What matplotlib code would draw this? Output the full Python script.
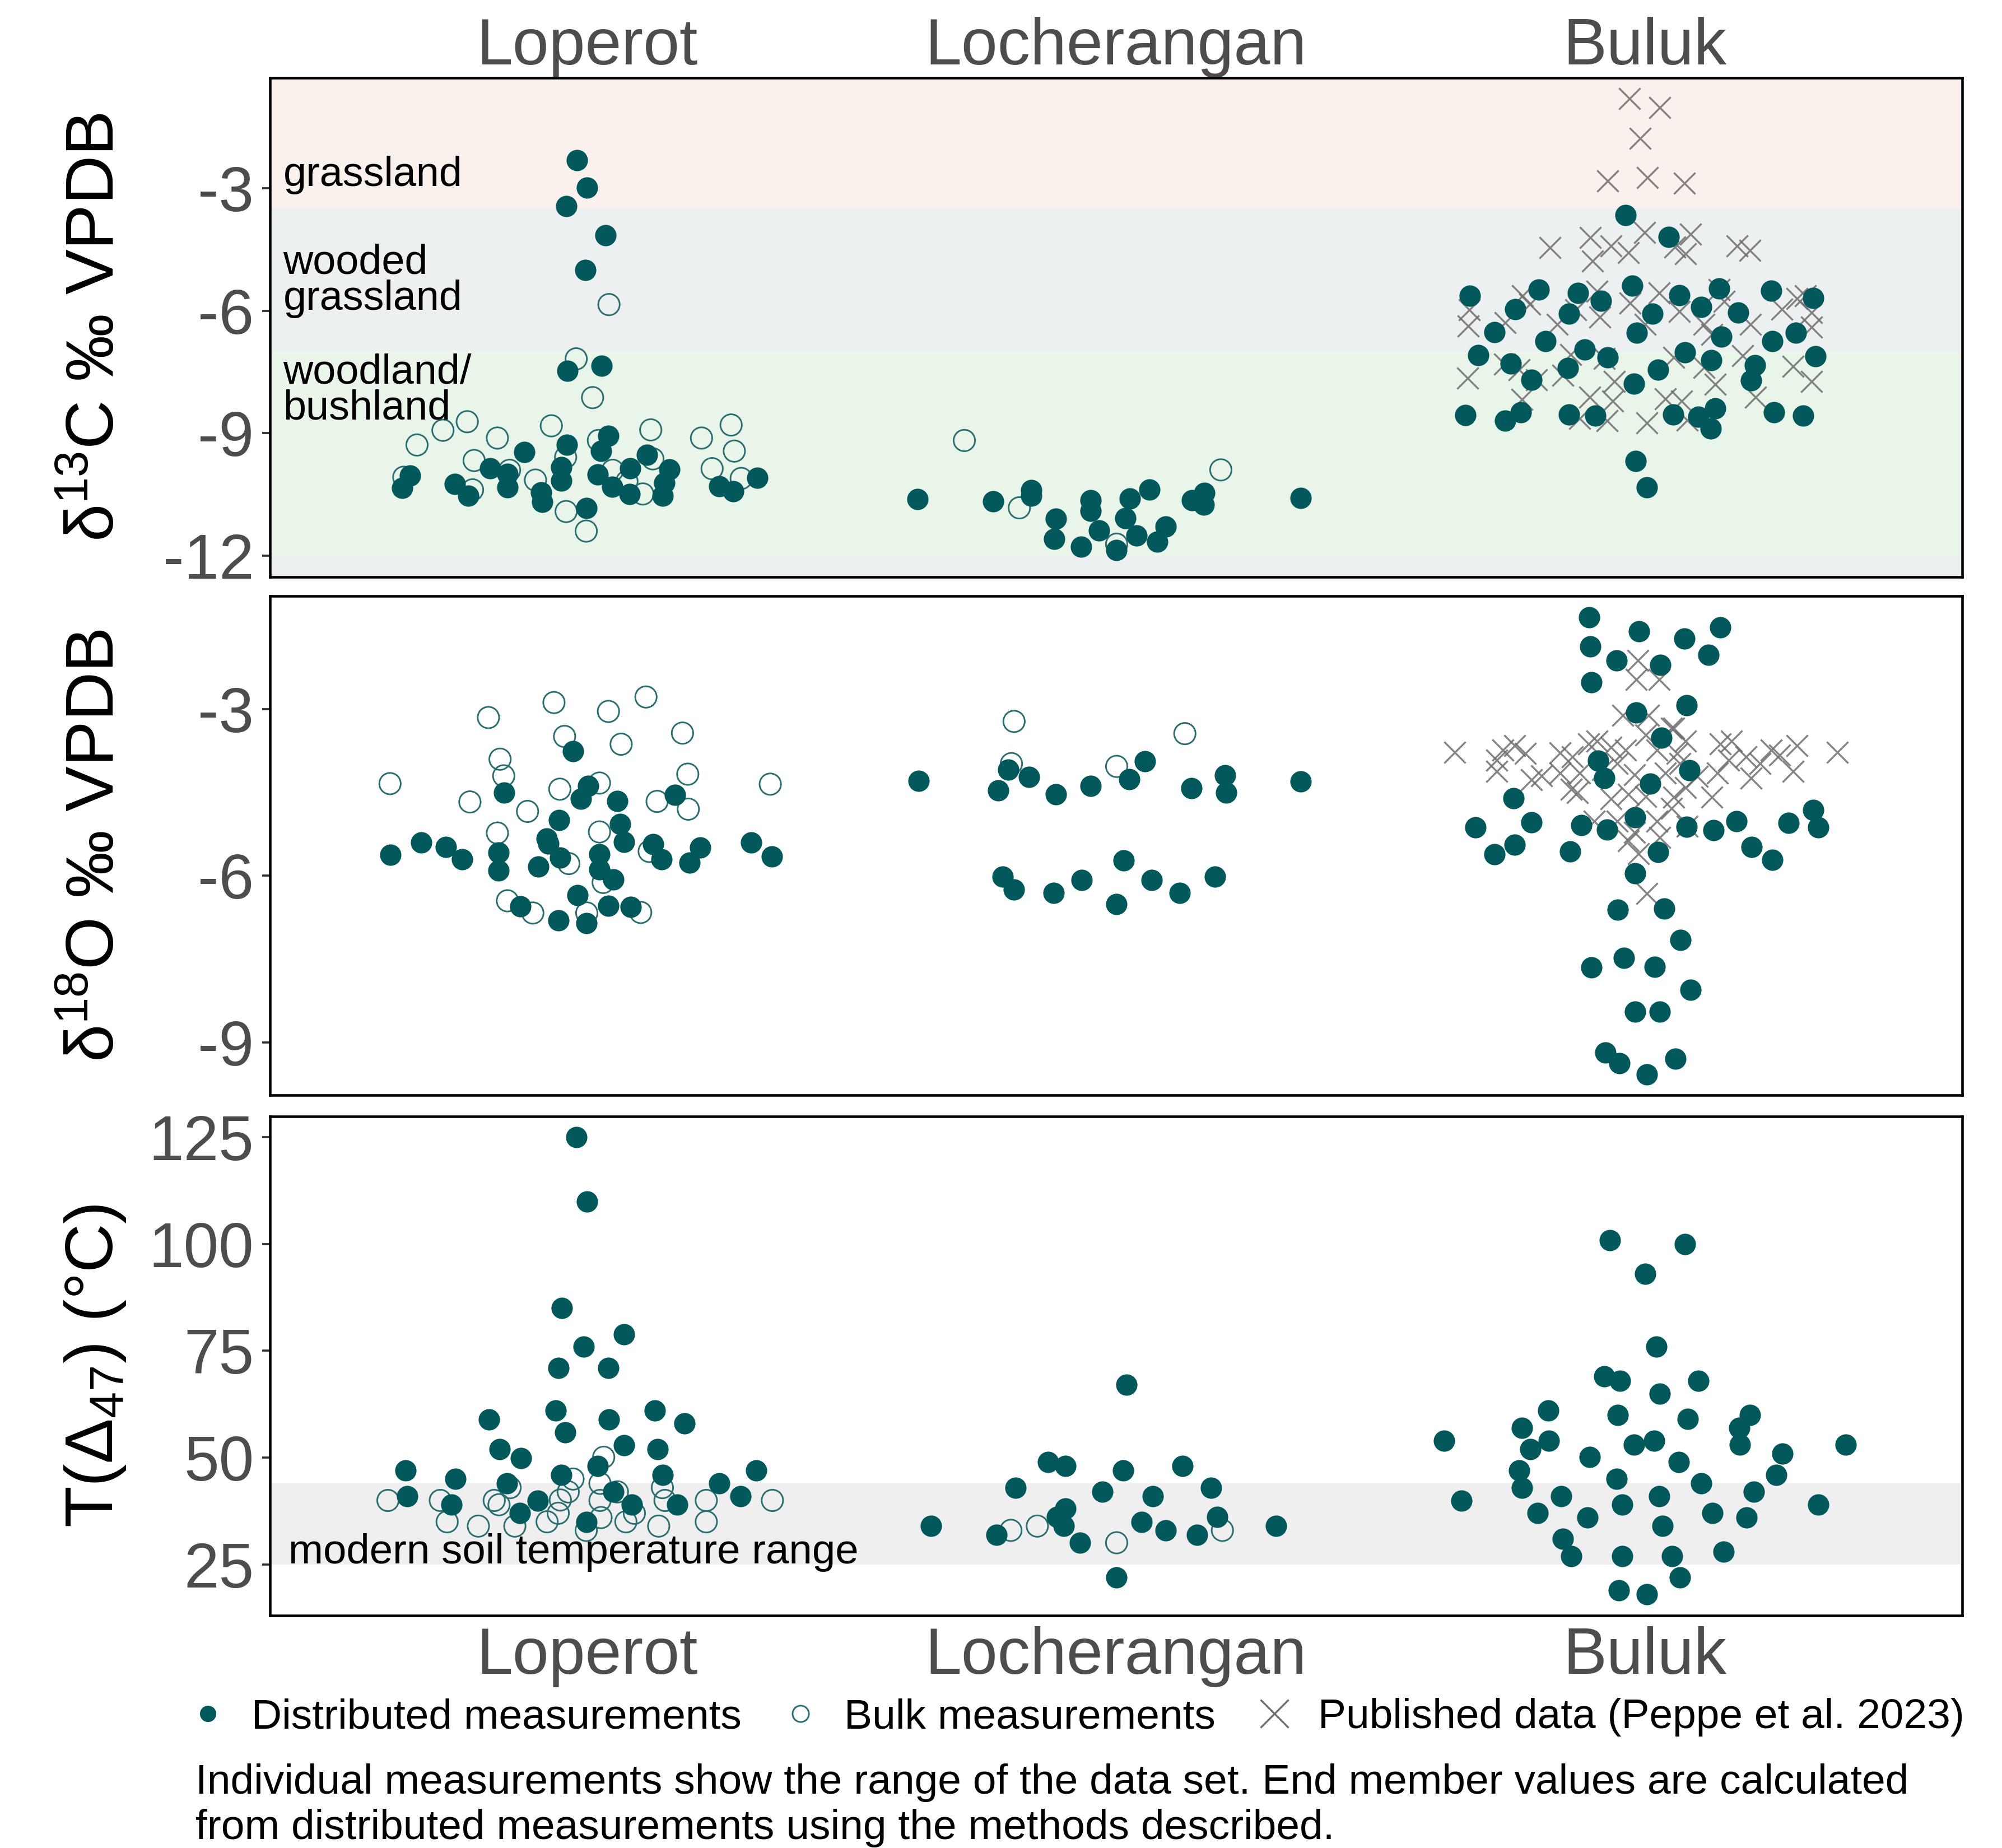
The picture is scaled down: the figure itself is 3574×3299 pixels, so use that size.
import numpy as np
import matplotlib
matplotlib.use("Agg")
import matplotlib.pyplot as plt
from matplotlib.lines import Line2D

plt.rcParams['font.family'] = ['Liberation Sans', 'DejaVu Sans']
plt.rcParams['mathtext.fontset'] = 'custom'
plt.rcParams['mathtext.rm'] = 'Liberation Sans'
plt.rcParams['mathtext.it'] = 'Liberation Sans:italic'
plt.rcParams['mathtext.bf'] = 'Liberation Sans:bold'
plt.rcParams['axes.unicode_minus'] = False

# ---------------- data ----------------
sites = ['Loperot', 'Locherangan', 'Buluk']
site_pos = {s: i + 1 for i, s in enumerate(sites)}

# d13C panel
c13_lop_dist_val = [-2.31, -2.98, -3.44, -4.15, -5.00, -7.48, -7.35, -9.07, -9.29, -9.46, -9.44, -10.04, -10.34, -10.24, -10.54, -9.86, -10.00, -10.33, -9.84, -10.16, -10.45, -10.69, -10.83, -10.01, -10.32, -9.86, -10.49, -9.53, -9.89, -10.22, -10.54, -10.30, -10.42, -10.10]
c13_lop_dist_dx = [-0.020, 0.000, -0.040, 0.035, -0.004, -0.038, 0.027, 0.040, -0.039, -0.119, 0.026, -0.335, -0.350, -0.250, -0.225, -0.184, -0.151, -0.151, -0.049, -0.049, -0.087, -0.085, -0.002, 0.020, 0.047, 0.081, 0.080, 0.113, 0.155, 0.146, 0.143, 0.249, 0.276, 0.322]
c13_lop_bulk_val = [-5.85, -7.18, -8.13, -8.72, -8.93, -9.29, -9.12, -8.82, -8.92, -8.80, -9.12, -9.44, -9.18, -9.67, -9.91, -9.59, -10.08, -10.39, -10.15, -9.91, -9.63, -10.18, -10.49, -9.87, -10.11, -10.92, -11.40]
c13_lop_bulk_dx = [0.041, -0.021, 0.010, -0.227, -0.273, -0.322, -0.170, -0.068, 0.120, 0.272, 0.216, 0.278, 0.021, -0.214, -0.147, -0.041, -0.347, -0.217, -0.098, 0.048, 0.124, 0.075, 0.105, 0.236, 0.291, -0.040, -0.002]
c13_loc_dist_val = [-10.61, -10.67, -10.40, -10.54, -11.10, -11.59, -11.78, -10.64, -10.91, -11.38, -10.60, -11.08, -10.39, -11.51, -11.87, -11.29, -11.66, -10.65, -10.47, -10.76, -10.59]
c13_loc_dist_dx = [-0.375, -0.233, -0.161, -0.160, -0.114, -0.117, -0.066, -0.048, -0.048, -0.032, 0.026, 0.017, 0.063, 0.039, 0.001, 0.094, 0.078, 0.144, 0.167, 0.166, 0.349]
c13_loc_bulk_val = [-9.18, -10.83, -11.72, -9.90]
c13_loc_bulk_dx = [-0.287, -0.183, 0.001, 0.198]
c13_bul_dist_val = [-3.66, -4.20, -5.64, -5.48, -5.97, -5.56, -5.76, -6.08, -5.39, -6.08, -5.62, -5.91, -5.46, -6.04, -5.51, -5.69, -6.53, -6.74, -6.54, -6.64, -6.75, -6.54, -7.09, -7.29, -6.95, -7.15, -7.41, -7.70, -7.02, -7.21, -7.45, -7.79, -7.34, -7.71, -7.12, -8.56, -8.70, -8.49, -8.55, -8.57, -8.55, -8.60, -8.39, -8.89, -8.49, -8.57, -9.69, -10.33]
c13_bul_dist_dx = [-0.037, 0.045, -0.331, -0.201, -0.245, -0.127, -0.083, -0.144, -0.024, 0.014, 0.065, 0.106, 0.140, 0.176, 0.239, 0.318, -0.284, -0.188, -0.015, 0.145, 0.241, 0.285, -0.315, -0.254, -0.114, -0.070, -0.146, -0.215, 0.076, 0.125, 0.025, -0.021, 0.208, 0.201, 0.323, -0.340, -0.264, -0.235, -0.144, -0.094, 0.053, 0.101, 0.133, 0.124, 0.244, 0.299, -0.018, 0.004]
c13_bul_pub_val = [-0.80, -1.03, -1.78, -2.82, -2.74, -2.88, -4.09, -4.13, -4.46, -4.21, -4.41, -4.58, -4.79, -4.44, -4.60, -4.41, -4.53, -5.98, -6.37, -5.63, -5.84, -6.30, -5.53, -6.16, -5.98, -6.33, -5.81, -6.33, -5.56, -6.02, -6.33, -6.58, -5.77, -5.49, -6.33, -5.97, -5.70, -6.05, -6.40, -5.63, -7.65, -7.31, -7.45, -7.70, -8.18, -7.59, -7.07, -7.17, -7.73, -8.12, -8.22, -7.14, -8.16, -8.22, -7.39, -7.80, -7.10, -8.12, -7.36, -7.73, -8.64, -8.70, -8.75, -8.68]
c13_bul_pub_dx = [-0.029, 0.028, -0.009, -0.070, 0.005, 0.075, -0.001, 0.086, -0.180, -0.103, -0.064, -0.031, -0.099, 0.057, 0.077, 0.174, 0.199, -0.332, -0.334, -0.231, -0.218, -0.264, -0.091, -0.085, -0.131, -0.166, -0.028, 0.000, 0.027, 0.065, 0.112, 0.126, 0.150, 0.140, 0.200, 0.259, 0.288, 0.315, 0.315, 0.303, -0.335, -0.265, -0.238, -0.205, -0.233, -0.155, -0.140, -0.077, -0.058, -0.104, -0.061, 0.055, 0.039, 0.069, 0.112, 0.133, 0.185, 0.209, 0.280, 0.315, -0.123, -0.072, 0.004, 0.080]

# d18O panel
o18_lop_dist_val = [-3.76, -4.50, -4.38, -4.61, -4.65, -4.54, -5.00, -5.07, -5.33, -5.42, -5.39, -5.40, -5.48, -5.70, -5.62, -5.58, -5.90, -5.83, -5.67, -5.61, -5.88, -6.07, -5.43, -5.70, -5.49, -5.76, -5.40, -5.65, -6.35, -6.55, -6.80, -6.85, -6.54, -6.56]
o18_lop_dist_dx = [-0.027, -0.157, 0.002, -0.012, 0.057, 0.166, -0.053, 0.062, -0.077, -0.074, 0.069, -0.314, -0.267, -0.237, -0.372, -0.168, -0.168, -0.093, -0.051, 0.023, 0.023, 0.049, 0.124, 0.140, 0.214, 0.193, 0.310, 0.349, -0.018, -0.127, -0.054, -0.002, 0.040, 0.082]
o18_lop_bulk_val = [-2.88, -2.78, -3.04, -3.15, -3.49, -3.63, -3.43, -3.90, -4.20, -4.34, -4.17, -4.35, -4.44, -4.33, -4.67, -4.84, -4.66, -4.80, -5.23, -5.21, -5.56, -5.78, -6.12, -6.45, -6.67, -6.67, -6.66]
o18_lop_bulk_dx = [-0.063, 0.111, 0.040, -0.187, -0.043, 0.064, 0.180, -0.165, -0.158, -0.373, 0.190, 0.346, -0.052, 0.023, -0.222, -0.113, 0.132, 0.191, -0.170, 0.023, 0.117, -0.035, 0.030, -0.151, -0.103, -0.001, 0.101]
o18_loc_dist_val = [-4.29, -4.09, -4.22, -4.46, -4.53, -4.38, -4.26, -3.94, -4.42, -4.19, -4.50, -6.02, -6.25, -6.31, -6.08, -5.72, -6.51, -6.08, -6.31, -6.02, -4.30]
o18_loc_dist_dx = [-0.373, -0.204, -0.165, -0.223, -0.114, -0.048, 0.025, 0.055, 0.142, 0.206, 0.208, -0.214, -0.193, -0.118, -0.065, 0.014, 0.001, 0.067, 0.120, 0.187, 0.349]
o18_loc_bulk_val = [-3.22, -3.98, -4.03, -3.44]
o18_loc_bulk_dx = [-0.193, -0.198, 0.001, 0.130]
o18_bul_dist_val = [-1.35, -1.60, -1.73, -1.53, -1.87, -2.12, -2.20, -2.02, -2.52, -3.06, -2.93, -3.51, -3.93, -4.24, -4.10, -4.34, -4.60, -5.13, -5.04, -5.44, -5.61, -5.09, -5.17, -4.95, -5.56, -5.57, -5.12, -5.18, -5.02, -5.48, -5.71, -5.05, -4.82, -5.13, -5.96, -6.61, -6.59, -7.16, -7.65, -7.48, -7.64, -8.05, -8.45, -8.45, -9.18, -9.38, -9.58, -9.29]
o18_bul_dist_dx = [-0.105, -0.011, 0.075, 0.142, -0.103, -0.054, 0.029, 0.120, -0.101, -0.016, 0.079, 0.031, -0.088, -0.077, 0.084, 0.010, -0.248, -0.320, -0.215, -0.246, -0.285, -0.120, -0.072, -0.019, -0.141, 0.025, 0.079, 0.130, 0.173, 0.202, 0.241, 0.272, 0.318, 0.328, -0.019, -0.051, 0.037, 0.067, -0.101, -0.040, 0.019, 0.086, -0.019, 0.028, -0.075, -0.048, 0.004, 0.058]
o18_bul_pub_val = [-3.78, -3.92, -3.74, -3.66, -3.80, -4.12, -4.20, -3.79, -3.86, -4.15, -4.50, -4.15, -3.57, -3.69, -3.74, -3.98, -4.09, -4.18, -3.46, -3.74, -3.34, -3.57, -3.80, -3.63, -3.57, -3.86, -3.74, -3.83, -3.66, -3.78, -4.24, -4.12, -4.15, -3.98, -4.21, -4.15, -4.61, -4.53, -4.57, -4.58, -4.41, -4.58, -5.02, -5.02, -5.22, -5.02, -4.79, -5.11, -5.31, -5.37, -5.60, -2.12, -2.47, -2.47, -3.11, -3.11, -3.34, -6.32, -3.63, -3.98, -3.92, -4.27, -4.44]
o18_bul_pub_dx = [-0.360, -0.280, -0.269, -0.246, -0.226, -0.280, -0.196, -0.161, -0.137, -0.161, -0.128, -0.123, -0.091, -0.064, -0.037, -0.053, -0.080, -0.020, 0.001, 0.023, 0.055, 0.077, 0.061, 0.142, 0.164, 0.191, 0.239, 0.255, 0.288, 0.364, 0.201, 0.280, 0.039, 0.066, 0.099, 0.137, -0.064, -0.031, 0.001, 0.055, 0.077, 0.126, -0.096, -0.053, -0.020, 0.023, 0.050, 0.080, 0.028, -0.031, -0.012, -0.013, -0.017, 0.027, -0.042, 0.007, 0.050, 0.004, -0.107, 0.218, 0.158, -0.215, -0.139]

# T(D47) panel
t47_lop_dist_val = [124.9, 109.9, 85.0, 75.9, 78.9, 71.0, 71.0, 61.0, 58.9, 58.9, 61.0, 58.0, 55.9, 52.0, 49.9, 52.9, 52.0, 47.0, 45.0, 46.0, 48.0, 46.0, 47.0, 41.0, 44.0, 39.0, 40.0, 37.0, 42.0, 39.0, 35.0, 39.0, 44.0, 41.0]
t47_lop_dist_dx = [-0.021, 0.000, -0.048, -0.007, 0.069, -0.055, 0.040, -0.060, -0.186, 0.041, 0.128, 0.184, -0.042, -0.166, -0.125, 0.069, 0.133, -0.344, -0.249, -0.049, 0.020, 0.143, 0.319, -0.341, -0.152, -0.257, -0.094, -0.128, 0.049, 0.084, -0.002, 0.170, 0.249, 0.290]
t47_lop_bulk_val = [50.1, 45.0, 43.0, 42.0, 44.0, 42.0, 43.0, 40.0, 40.0, 40.0, 39.0, 40.1, 40.0, 40.0, 40.0, 40.0, 35.0, 34.0, 34.0, 35.0, 37.0, 36.0, 35.0, 37.0, 34.0, 35.0, 33.0]
t47_lop_bulk_dx = [0.031, -0.027, -0.146, -0.036, 0.024, 0.057, 0.142, -0.377, -0.278, -0.176, -0.167, -0.051, 0.024, 0.147, 0.225, 0.350, -0.265, -0.206, -0.137, -0.076, -0.055, 0.026, 0.073, 0.089, 0.135, 0.225, -0.002]
t47_loc_dist_val = [67.0, 49.0, 48.0, 47.0, 48.0, 43.0, 42.0, 41.0, 43.0, 38.1, 36.1, 34.0, 34.0, 32.0, 30.1, 35.0, 33.0, 32.0, 36.1, 34.0, 22.0]
t47_loc_dist_dx = [0.020, -0.129, -0.096, 0.013, 0.126, -0.190, -0.026, 0.069, 0.180, -0.096, -0.112, -0.099, -0.350, -0.226, -0.068, 0.048, 0.094, 0.153, 0.191, 0.302, 0.001]
t47_loc_bulk_val = [33.0, 34.0, 30.1, 33.0]
t47_loc_bulk_dx = [-0.199, -0.149, 0.001, 0.201]
t47_bul_dist_val = [100.9, 100.0, 93.0, 75.9, 69.0, 68.0, 68.0, 65.0, 61.0, 60.0, 59.0, 60.0, 57.0, 57.0, 54.0, 54.0, 54.0, 52.0, 53.0, 53.0, 53.0, 51.0, 50.1, 49.0, 47.0, 46.0, 45.0, 44.0, 43.0, 42.0, 40.0, 41.0, 41.0, 39.0, 39.0, 37.0, 36.0, 37.0, 36.0, 34.0, 31.0, 27.0, 27.0, 27.0, 28.0, 22.0, 19.0, 18.0]
t47_bul_dist_dx = [-0.066, 0.076, 0.000, 0.022, -0.077, -0.047, 0.101, 0.028, -0.183, -0.051, 0.081, 0.199, -0.233, 0.178, -0.380, -0.182, 0.017, -0.217, -0.021, 0.179, 0.380, 0.260, -0.104, 0.064, -0.238, 0.248, -0.054, 0.106, -0.233, 0.206, -0.347, -0.158, 0.027, -0.043, 0.328, -0.203, -0.109, 0.128, 0.192, 0.033, -0.155, -0.139, -0.043, 0.051, 0.149, 0.066, -0.049, 0.004]

# background ranges
c13_bands = [(-3.5, 5.0, '#FAF0EC'), (-7.0, -3.5, '#ECF0F0'), (-12.0, -7.0, '#EAF5EA'), (-20.0, -12.0, '#ECF0F0')]
c13_band_labels = [('grassland', -2.94), ('wooded', -5.09), ('grassland', -5.98), ('woodland/', -7.78), ('bushland', -8.66)]
soil_range = (25.0, 44.0)
c13_ticks = [-12, -9, -6, -3]
o18_ticks = [-9, -6, -3]
t47_ticks = [25, 50, 75, 100, 125]

# ---------------- style ----------------
TEAL = '#02585A'
TEAL_OPEN = '#2A6E70'
CROSS = '#6E6E6E'
TICKCOL = '#4D4D4D'
S = 84

W, H = 3574, 3299
fig = plt.figure(figsize=(W / 300, H / 300), dpi=300)

left, width = 482 / W, (3503 - 482) / W
def ypos(top_px, bot_px):
    return [left, 1 - bot_px / H, width, (bot_px - top_px) / H]

ax1 = fig.add_axes(ypos(138.6, 1030.0))
ax2 = fig.add_axes(ypos(1064.3, 1955.4))
ax3 = fig.add_axes(ypos(1992.8, 2884.0))


def draw(ax, site, dist=None, bulk=None, pub=None):
    x0 = site_pos[site]
    if pub is not None:
        ax.scatter(x0 + np.asarray(pub[1]), pub[0], marker='x', s=S, c=CROSS,
                   linewidths=0.8, alpha=0.85, zorder=2)
    if bulk is not None:
        ax.scatter(x0 + np.asarray(bulk[1]), bulk[0], marker='o', s=S,
                   facecolors='none', edgecolors=TEAL_OPEN, linewidths=0.7, zorder=3)
    if dist is not None:
        ax.scatter(x0 + np.asarray(dist[1]), dist[0], marker='o', s=S,
                   c=TEAL, linewidths=0, zorder=4)


# panel 1
for lo, hi, col in c13_bands:
    ax1.axhspan(lo, hi, color=col, lw=0, zorder=0)
for txt, yv in c13_band_labels:
    ax1.text(0.425, yv, txt, fontsize=17.7, va='baseline', ha='left', color='black', zorder=5)
draw(ax1, 'Loperot', (c13_lop_dist_val, c13_lop_dist_dx), (c13_lop_bulk_val, c13_lop_bulk_dx))
draw(ax1, 'Locherangan', (c13_loc_dist_val, c13_loc_dist_dx), (c13_loc_bulk_val, c13_loc_bulk_dx))
draw(ax1, 'Buluk', (c13_bul_dist_val, c13_bul_dist_dx), None, (c13_bul_pub_val, c13_bul_pub_dx))
ax1.set_ylim(-12.524, -0.291)
ax1.set_yticks(c13_ticks)

# panel 2
draw(ax2, 'Loperot', (o18_lop_dist_val, o18_lop_dist_dx), (o18_lop_bulk_val, o18_lop_bulk_dx))
draw(ax2, 'Locherangan', (o18_loc_dist_val, o18_loc_dist_dx), (o18_loc_bulk_val, o18_loc_bulk_dx))
draw(ax2, 'Buluk', (o18_bul_dist_val, o18_bul_dist_dx), None, (o18_bul_pub_val, o18_bul_pub_dx))
ax2.set_ylim(-9.954, -0.965)
ax2.set_yticks(o18_ticks)

# panel 3
ax3.axhspan(soil_range[0], soil_range[1], color='#EFEFEF', lw=0, zorder=0)
ax3.text(0.435, 25.3, 'modern soil temperature range', fontsize=17.9, va='baseline',
         ha='left', color='black', zorder=5)
draw(ax3, 'Loperot', (t47_lop_dist_val, t47_lop_dist_dx), (t47_lop_bulk_val, t47_lop_bulk_dx))
draw(ax3, 'Locherangan', (t47_loc_dist_val, t47_loc_dist_dx), (t47_loc_bulk_val, t47_loc_bulk_dx))
draw(ax3, 'Buluk', (t47_bul_dist_val, t47_bul_dist_dx))
ax3.set_ylim(13.08, 129.83)
ax3.set_yticks(t47_ticks)

ylabels = ['δ$^{13}$C ‰ VPDB', 'δ$^{18}$O ‰ VPDB', 'T(Δ$_{47}$) (°C)']
for ax, lab in zip([ax1, ax2, ax3], ylabels):
    ax.set_xlim(0.4, 3.6)
    ax.set_facecolor('white')
    for sp in ax.spines.values():
        sp.set_linewidth(1.1)
        sp.set_color('black')
    ax.tick_params(axis='y', direction='out', length=3.4, width=0.9, color='#333333',
                   labelsize=27, labelcolor=TICKCOL, pad=3.5)
    ax.set_ylabel(lab, fontsize=29, color='black')
    ax.yaxis.set_label_coords(-0.0841, 0.5)

ax1.xaxis.tick_top()
ax1.set_xticks([site_pos[s] for s in sites])
ax1.set_xticklabels(sites)
ax1.tick_params(axis='x', length=0, pad=0, labelsize=28, labelcolor=TICKCOL)
ax2.set_xticks([])
ax3.set_xticks([site_pos[s] for s in sites])
ax3.set_xticklabels(sites)
ax3.tick_params(axis='x', length=0, pad=4.5, labelsize=28, labelcolor=TICKCOL)

handles = [
    Line2D([], [], ls='', marker='o', color=TEAL, markersize=7, markeredgewidth=0),
    Line2D([], [], ls='', marker='o', markerfacecolor='none', markeredgecolor=TEAL_OPEN,
           markersize=7, markeredgewidth=0.7),
    Line2D([], [], ls='', marker='x', color=CROSS, markersize=12, markeredgewidth=0.8),
]
labels = ['Distributed measurements', 'Bulk measurements', 'Published data (Peppe et al. 2023)']
fig.legend(handles, labels, loc='center left', bbox_to_anchor=(333.5 / W, 1 - 3066 / H),
           ncol=3, frameon=False, fontsize=18, handlelength=1.0, handletextpad=0.54,
           columnspacing=0.9, borderpad=0, borderaxespad=0)

fig.text(349 / W, 1 - 3202 / H,
         'Individual measurements show the range of the data set. End member values are calculated',
         fontsize=18, va='baseline', ha='left', color='black')
fig.text(349 / W, 1 - 3283 / H,
         'from distributed measurements using the methods described.',
         fontsize=18, va='baseline', ha='left', color='black')

fig.savefig('out.png', dpi=300)
